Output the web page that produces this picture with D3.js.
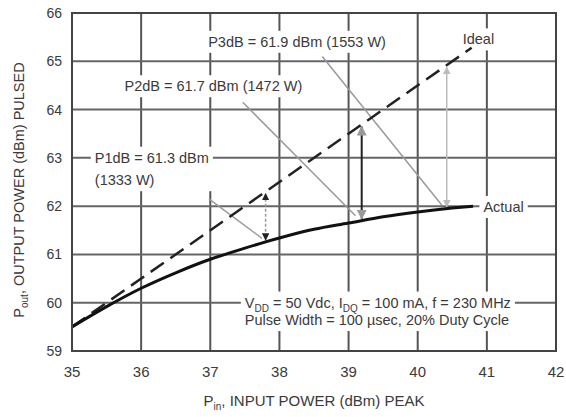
<!DOCTYPE html>
<html>
<head>
<meta charset="utf-8">
<script src="https://cdn.jsdelivr.net/npm/d3@7"></script>
<style>
  body { margin: 0; background: #fff; }
  text { font-family: "Liberation Sans", Arial, sans-serif; fill: #3a3a3a; }
</style>
</head>
<body>
<svg id="viz" width="566" height="417"></svg>
<script>
// values
var xTicks = [35, 36, 37, 38, 39, 40, 41, 42];
var yTicks = [59, 60, 61, 62, 63, 64, 65, 66];

var actualIn = [35, 35.5, 36, 36.5, 37, 37.5, 38, 38.5, 39, 39.5, 40, 40.5, 40.8];
var actualOut = [59.5, 59.92, 60.3, 60.62, 60.9, 61.13, 61.34, 61.52, 61.65, 61.78, 61.88, 61.96, 62.0];

var idealIn = [35, 40.78];
var idealOut = [59.5, 65.28];

// compression points: x of arrow, label lines, leader start
var compX = [37.8, 39.19, 40.42];
var compLabel = [["P1dB = 61.3 dBm", "(1333 W)"], ["P2dB = 61.7 dBm (1472 W)"], ["P3dB = 61.9 dBm (1553 W)"]];
var labelPos = [[35.33, 62.9], [35.76, 64.38], [36.97, 65.3]];
var leaderFrom = [[36.98, 62.15], [37.47, 64.15], [38.62, 65.1]];
var leaderTo = [[37.75, 61.33], [39.1, 61.8], [40.35, 62.02]];

var svg = d3.select("#viz");
var margin = { left: 72, right: 10, top: 13, bottom: 66 };
var W = 566, H = 417;
var fs = 14.5;

var x = d3.scaleLinear().domain([35, 42]).range([margin.left, W - margin.right]);
var y = d3.scaleLinear().domain([59, 66]).range([H - margin.bottom, margin.top]);

var grid = svg.append("g");
grid.selectAll("line.v").data(xTicks).enter().append("line")
  .attr("x1", function(d) { return x(d); }).attr("x2", function(d) { return x(d); })
  .attr("y1", y(59)).attr("y2", y(66))
  .attr("stroke", "#555").attr("stroke-width", 2);
grid.selectAll("line.h").data(yTicks).enter().append("line")
  .attr("y1", function(d) { return y(d); }).attr("y2", function(d) { return y(d); })
  .attr("x1", x(35)).attr("x2", x(42))
  .attr("stroke", "#666").attr("stroke-width", 2);

// tick labels
svg.append("g").selectAll("text").data(xTicks).enter().append("text")
  .attr("x", function(d) { return x(d); }).attr("y", y(59) + 26)
  .attr("text-anchor", "middle").attr("font-size", 15).text(function(d) { return d; });
svg.append("g").selectAll("text").data(yTicks).enter().append("text")
  .attr("x", x(35) - 10).attr("y", function(d) { return y(d) + 5; })
  .attr("text-anchor", "end").attr("font-size", 14).text(function(d) { return d; });

// axis titles
var xt = svg.append("text").attr("x", (x(35) + x(42)) / 2).attr("y", 406)
  .attr("text-anchor", "middle").attr("font-size", 15);
xt.append("tspan").text("P");
xt.append("tspan").attr("font-size", 10).attr("dy", 4).text("in");
xt.append("tspan").attr("dy", -4).text(", INPUT POWER (dBm) PEAK");

var yt = svg.append("text")
  .attr("transform", "translate(24," + 190 + ") rotate(-90)")
  .attr("text-anchor", "middle").attr("font-size", 14.5);
yt.append("tspan").text("P");
yt.append("tspan").attr("font-size", 10).attr("dy", 4).text("out");
yt.append("tspan").attr("dy", -4).text(", OUTPUT POWER (dBm) PULSED");

// white box behind a text node
function boxBehind(g, tx) {
  var b = tx.node().getBBox();
  g.insert("rect", "text").attr("fill", "#fff")
    .attr("x", b.x - 4).attr("y", b.y - 3).attr("width", b.width + 8).attr("height", b.height + 6);
}

function boxedText(g, px, py, lines, size) {
  var t = g.append("g");
  var tx = t.append("text").attr("font-size", size);
  lines.forEach(function(l, i) {
    tx.append("tspan").attr("x", px).attr("y", py + i * (size + 8)).text(l);
  });
  boxBehind(t, tx);
  return tx;
}

var defs = svg.append("defs");
["#222", "#999", "#bbb"].forEach(function(c, i) {
  defs.append("marker").attr("id", "ah" + i)
    .attr("viewBox", "0 0 10 10").attr("refX", 9).attr("refY", 5)
    .attr("markerWidth", 5).attr("markerHeight", 5).attr("orient", "auto-start-reverse")
    .append("path").attr("d", "M0,0L10,5L0,10Z").attr("fill", c);
});

var ann = svg.append("g");

// labels
compLabel.forEach(function(l, i) {
  boxedText(ann, x(labelPos[i][0]), y(labelPos[i][1]), l, fs);
});
boxedText(ann, x(40.65), y(65.35), ["Ideal"], fs);
boxedText(ann, x(40.95), y(61.88), ["Actual"], fs);

// conditions note
var sg = ann.append("g");
var st = sg.append("text").attr("font-size", fs);
var l1 = st.append("tspan").attr("x", x(37.5)).attr("y", y(59.9));
l1.append("tspan").text("V");
l1.append("tspan").attr("font-size", 10).attr("dy", 4).text("DD");
l1.append("tspan").attr("dy", -4).text(" = 50 Vdc, I");
l1.append("tspan").attr("font-size", 10).attr("dy", 4).text("DQ");
l1.append("tspan").attr("dy", -4).text(" = 100 mA, f = 230 MHz");
st.append("tspan").attr("x", x(37.5)).attr("y", y(59.9) + fs + 3)
  .text("Pulse Width = 100 \u00b5sec, 20% Duty Cycle");
boxBehind(sg, st);

// leader lines
ann.selectAll("line.leader").data(compX).enter().append("line")
  .attr("x1", function(d, i) { return x(leaderFrom[i][0]); })
  .attr("y1", function(d, i) { return y(leaderFrom[i][1]); })
  .attr("x2", function(d, i) { return x(leaderTo[i][0]); })
  .attr("y2", function(d, i) { return y(leaderTo[i][1]); })
  .attr("stroke", "#9a9a9a").attr("stroke-width", 1.5);

// lines
var line = d3.line().x(function(d) { return x(d[0]); }).y(function(d) { return y(d[1]); })
  .curve(d3.curveMonotoneX);
svg.append("path").datum(idealIn.map(function(v, i) { return [v, idealOut[i]]; }))
  .attr("d", line).attr("fill", "none").attr("stroke", "#222")
  .attr("stroke-width", 2.5).attr("stroke-dasharray", "16,8");
svg.append("path").datum(actualIn.map(function(v, i) { return [v, actualOut[i]]; }))
  .attr("d", line).attr("fill", "none").attr("stroke", "#111").attr("stroke-width", 3);

// compression arrows between ideal and actual
var actualAt = d3.scaleLinear().domain(actualIn).range(actualOut);
var arrowColor = ["#999", "#222", "#bbb"];
ann.selectAll("line.arr").data(compX).enter().append("line")
  .attr("x1", function(d) { return x(d); }).attr("x2", function(d) { return x(d); })
  .attr("y1", function(d) { return y(d + (idealOut[0] - idealIn[0])) + 2; })
  .attr("y2", function(d) { return y(actualAt(d)) - 2; })
  .attr("stroke", function(d, i) { return arrowColor[i]; })
  .attr("stroke-width", function(d, i) { return i === 1 ? 2 : 1.5; })
  .attr("stroke-dasharray", function(d, i) { return i === 0 ? "3,2" : null; })
  .attr("marker-start", function(d, i) { return "url(#ah" + i + ")"; })
  .attr("marker-end", function(d, i) { return "url(#ah" + i + ")"; });

// frame
svg.append("rect").attr("x", x(35)).attr("y", y(66))
  .attr("width", x(42) - x(35)).attr("height", y(59) - y(66))
  .attr("fill", "none").attr("stroke", "#444").attr("stroke-width", 2);
</script>
</body>
</html>
